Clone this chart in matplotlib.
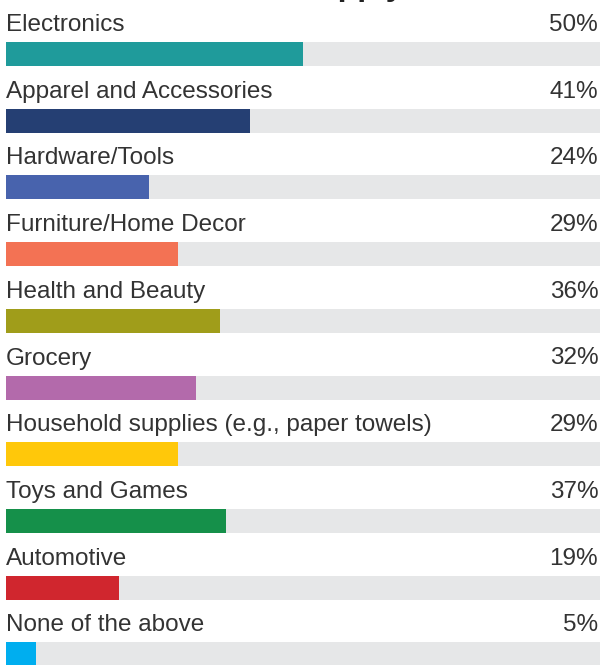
import matplotlib
matplotlib.use("Agg")
import matplotlib.pyplot as plt

categories = ["Electronics", "Apparel and Accessories", "Hardware/Tools",
              "Furniture/Home Decor", "Health and Beauty", "Grocery",
              "Household supplies (e.g., paper towels)", "Toys and Games",
              "Automotive", "None of the above"]
values = [50, 41, 24, 29, 36, 32, 29, 37, 19, 5]
colors = ["#1f9b9b", "#253f73", "#4863ad", "#f37254", "#a09d1a",
          "#b36aab", "#ffc80a", "#15904a", "#d0262e", "#00aeef"]
title_tail = "all that apply"

W, H = 600, 665
fig = plt.figure(figsize=(W / 100, H / 100), dpi=100)
ax = fig.add_axes([0, 0, 1, 1])

px_per_pct = 5.94
x0_px = 6
row_px = 66.7
c0_px = 54
ax.set_xlim(-x0_px / px_per_pct, (W - x0_px) / px_per_pct)
ax.set_ylim((H - c0_px) / row_px, -c0_px / row_px)
ax.axis("off")

bh = 24 / row_px
font = ["Liberation Sans", "DejaVu Sans"]
for i, (cat, v, c) in enumerate(zip(categories, values, colors)):
    ax.barh(i, 100, height=bh, left=0, color="#e6e7e8", linewidth=0)
    ax.barh(i, v, height=bh, left=0, color=c, linewidth=0)
    ty = i - 23 / row_px
    ax.text(0, ty, cat, ha="left", va="baseline", fontsize=17.5, color="#333333",
            family=font)
    ax.text(99.7, ty, f"{v}%", ha="right", va="baseline", fontsize=17.5,
            color="#333333", family=font)

fig.text(404 / W, 1 + 5.5 / H, title_tail, ha="right", va="baseline",
         fontsize=23, fontweight="bold", color="#222222", family=font)

fig.savefig("out.png", dpi=100)
